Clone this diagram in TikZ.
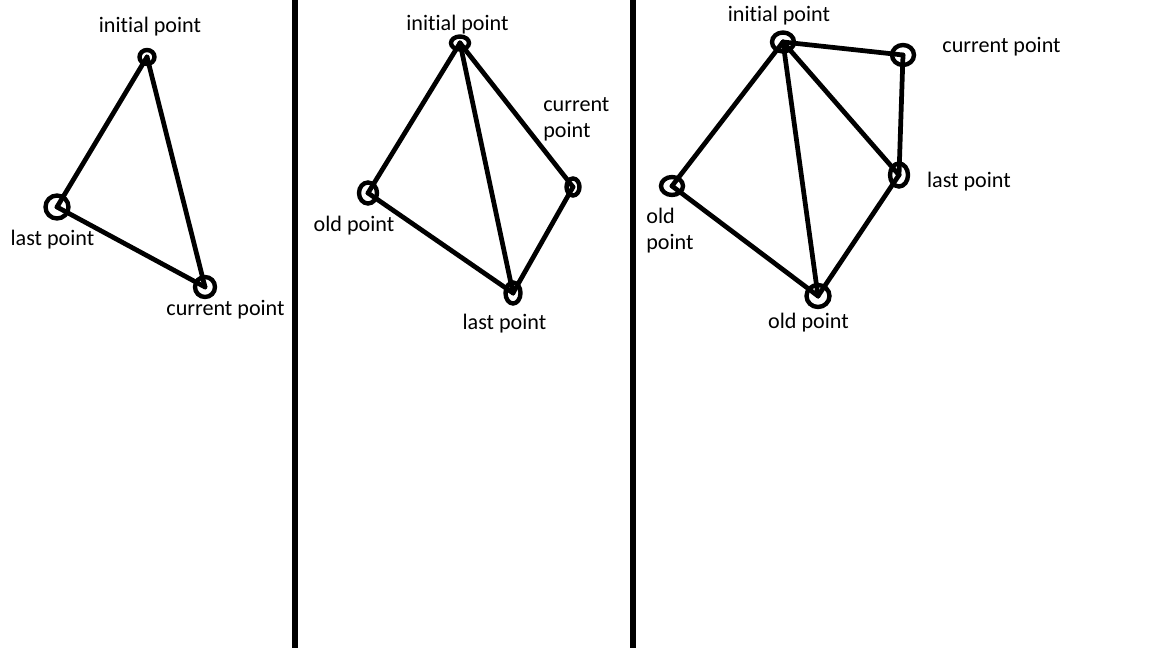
\documentclass[tikz,border=0pt]{standalone}
\usepackage{fontspec}
\setmainfont[Ligatures=NoCommon]{Carlito}
\usetikzlibrary{shapes.geometric,positioning}

\tikzset{
  vtx/.style 2 args={draw, ellipse, line width=2.5pt, inner sep=0pt, minimum width=#1*0.02cm, minimum height=#2*0.02cm},
  edge/.style={line width=2.7pt, line cap=round},
  divider/.style={line width=2.9pt},
  lbl/.style={inner sep=0pt, anchor=base, font=\fontsize{12.6}{14.8}\selectfont},
}

\begin{document}
\begin{tikzpicture}[x=0.02cm, y=-0.02cm]

\useasboundingbox (0,0) rectangle (1152,648);

% Dividers
\coordinate (d1t) at (295,0);
\coordinate (d1b) at (295,648);
\coordinate (d2t) at (633,0);
\coordinate (d2b) at (633,648);
\draw[divider] (d1t) -- (d1b);
\draw[divider] (d2t) -- (d2b);

% First panel
\node[vtx={15}{14}] (ini1) at (147,57) {};
\node[vtx={23}{23}] (last1) at (57,207) {};
\node[vtx={20}{20}] (cur1) at (205,287) {};
\draw[edge] (ini1.center) -- (last1.center);
\draw[edge] (ini1.center) -- (cur1.center);
\draw[edge] (last1.center) -- (cur1.center);
\node[lbl] (ini1l) at (150,33) {initial point};
\node[lbl] (last1l) at (52.5,246) {last point};
\node[lbl] (cur1l) at (225.5,316) {current point};

% Second panel
\node[vtx={18}{13}] (ini2) at (460,43) {};
\node[vtx={18}{21}] (old2) at (368,193) {};
\node[vtx={13}{17}] (cur2) at (573,187) {};
\node[vtx={15}{21}] (last2) at (513,293) {};
\draw[edge] (ini2.center) -- (old2.center);
\draw[edge] (ini2.center) -- (last2.center);
\draw[edge] (ini2.center) -- (cur2.center);
\draw[edge] (old2.center) -- (last2.center);
\draw[edge] (cur2.center) -- (last2.center);
\node[lbl] (ini2l) at (457.5,31) {initial point};
\node[lbl, anchor=base west, align=left] (cur2l) at (543,138) {current\\point};
\node[lbl] (old2l) at (354,232) {old point};
\node[lbl] (last2l) at (504.5,330) {last point};

% Third panel
\node[vtx={22}{19}] (ini3) at (783,42) {};
\node[vtx={22}{20}] (cur3) at (903,55) {};
\node[vtx={18}{23}] (last3) at (899,175) {};
\node[vtx={22}{18}] (old3) at (672,186) {};
\node[vtx={23}{22}] (oldb3) at (818,296) {};
\draw[edge] (ini3.center) -- (cur3.center);
\draw[edge] (cur3.center) -- (last3.center);
\draw[edge] (ini3.center) -- (last3.center);
\draw[edge] (ini3.center) -- (old3.center);
\draw[edge] (ini3.center) -- (oldb3.center);
\draw[edge] (old3.center) -- (oldb3.center);
\draw[edge] (oldb3.center) -- (last3.center);
\node[lbl] (ini3l) at (779,22) {initial point};
\node[lbl] (cur3l) at (1001.5,53) {current point};
\node[lbl] (last3l) at (969,188) {last point};
\node[lbl, anchor=base west, align=left] (old3l) at (646,250) {old\\point};
\node[lbl] (oldb3l) at (808.5,329) {old point};

\end{tikzpicture}
\end{document}
